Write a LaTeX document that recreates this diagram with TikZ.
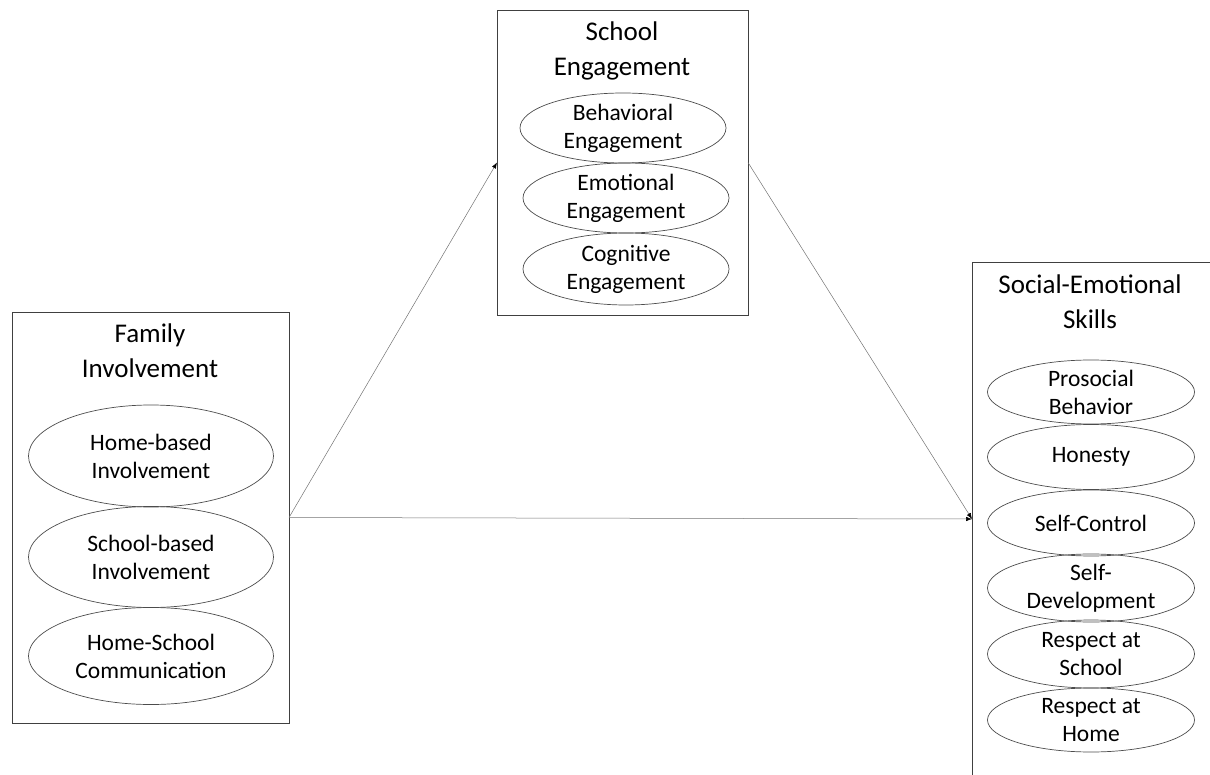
\documentclass[tikz,border=0pt]{standalone}
\usepackage{fontspec}
\setmainfont{Carlito}
\usetikzlibrary{shapes.geometric, arrows.meta}
\begin{document}
\begin{tikzpicture}[x=1pt,y=-1pt]
\tikzset{ >={Latex[black,length=6pt,width=4.5pt]}, inner sep=0pt, outer sep=0pt,
  box/.style={draw=black!75, line width=0.9pt},
  oval/.style={draw=black!70, ellipse, line width=0.7pt, align=center,
               font=\fontsize{23.5}{28}\selectfont},
  title/.style={align=center, font=\fontsize{27}{35}\selectfont},
  link/.style={->, draw=black!55, line width=0.5pt},
}

\useasboundingbox (0,0) rectangle (1210,775);
\clip (0,0) rectangle (1210,775);

% boxes
\node [box, minimum width=277, minimum height=411] (FI) at (150.5,517.5) {};
\node [box, minimum width=251, minimum height=305] (SE) at (622.5,162.5) {};
\node [box, minimum width=260, minimum height=514] (SK) at (1102,519) {};

\node [title] (FIt) at (150,351) {Family\\Involvement};
\node [title] (SEt) at (622,51) {School\\Engagement};
\node [title] (SKt) at (1090,302) {Social-Emotional\\Skills};

% family involvement
\node [oval, minimum width=245, minimum height=102] (HB) at (151,456) {Home-based\\Involvement};
\node [oval, minimum width=245, minimum height=101] (SB) at (151,557) {School-based\\Involvement};
\node [oval, minimum width=245, minimum height=97]  (HS) at (151,656) {Home-School\\Communication};

% school engagement
\node [oval, minimum width=206, minimum height=70] (BE) at (623,128) {Behavioral\\Engagement};
\node [oval, minimum width=206, minimum height=70] (EE) at (626,198) {Emotional\\Engagement};
\node [oval, minimum width=206, minimum height=72] (CE) at (626,269) {Cognitive\\Engagement};

% social-emotional skills
\node [oval, minimum width=207, minimum height=64] (PB) at (1091,392) {Prosocial\\Behavior};
\node [oval, minimum width=207, minimum height=65] (HO) at (1091,457) {Honesty};
\node [oval, minimum width=207, minimum height=66] (SC) at (1091,523) {Self-Control};
\node [oval, minimum width=207, minimum height=64] (SD) at (1091,588) {Self-\\Development};
\node [oval, minimum width=207, minimum height=68] (RS) at (1091,654) {Respect at\\School};
\node [oval, minimum width=207, minimum height=64] (RH) at (1091,720) {Respect at\\Home};

% paths
\draw [link] (FI.east) -- (SE.west);
\draw [link] (SE.east) -- (SK.west);
\draw [link] (FI.east) -- (SK.west);

\end{tikzpicture}
\end{document}
